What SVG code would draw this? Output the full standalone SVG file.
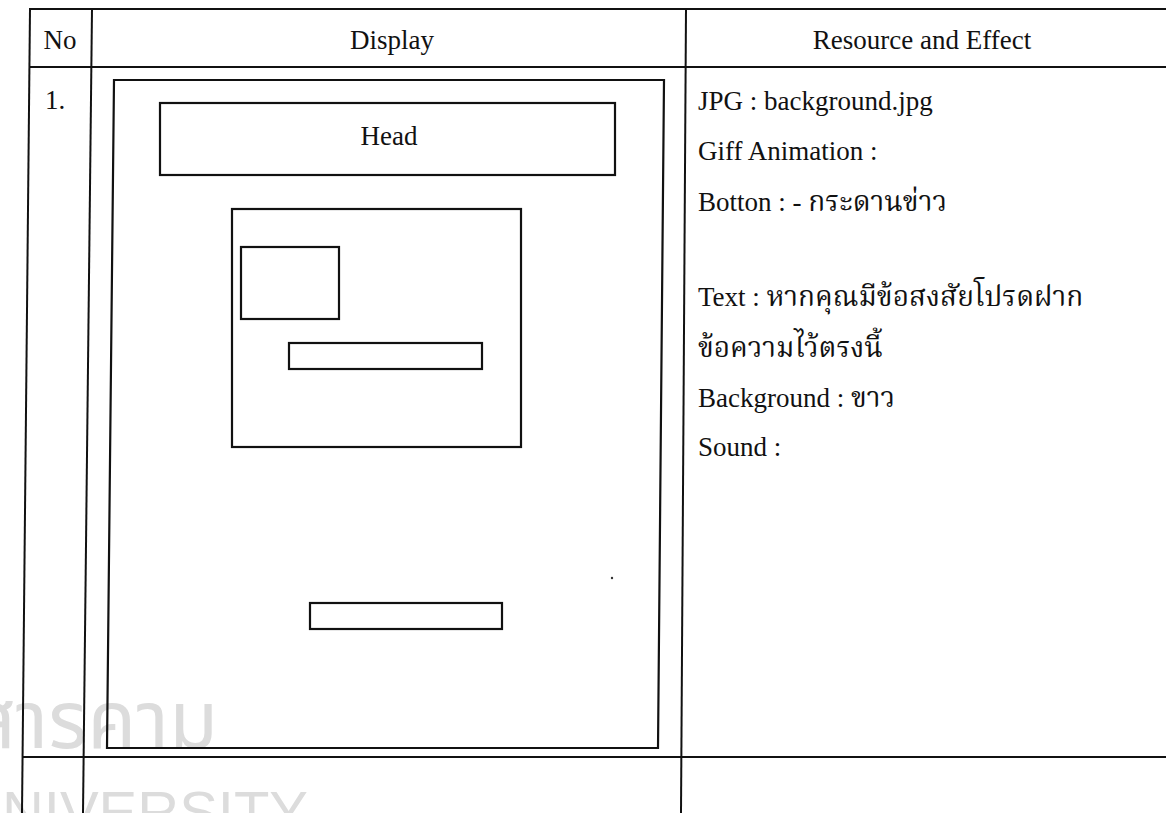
<svg xmlns="http://www.w3.org/2000/svg" width="1166" height="813" viewBox="0 0 1166 813">
<style>
.ln{stroke:#111;stroke-width:2;fill:none}
.bx{stroke:#111;stroke-width:2.2;fill:none}
.t{font-family:"Liberation Serif","Noto Serif Thai","Noto Sans Thai",serif;font-size:27px;fill:#111}
.th{font-size:28px}
.hd{font-family:"Liberation Serif",serif;font-size:27px;fill:#111}
.wm{font-family:"Liberation Sans","Noto Sans Thai",sans-serif;fill:#dcdcdc}
</style>
<rect width="1166" height="813" fill="#fff"/>
<g id="watermark">
<text class="wm" x="-30" y="748" font-size="80">สารคาม</text>
<text class="wm" x="-40" y="832" font-size="58">UNIVERSITY</text>
</g>
<g id="table">
<line class="ln" x1="29" y1="9" x2="1166" y2="9"/>
<line class="ln" x1="29" y1="67" x2="1166" y2="67"/>
<line class="ln" x1="22" y1="757" x2="1166" y2="757"/>
<line class="ln" x1="30" y1="9" x2="22" y2="813"/>
<line class="ln" x1="92" y1="9" x2="83" y2="813"/>
<line class="ln" x1="686" y1="9" x2="681" y2="813"/>
</g>
<g id="header">
<text class="hd" x="60" y="49" text-anchor="middle">No</text>
<text class="hd" x="392" y="49" text-anchor="middle">Display</text>
<text class="hd" x="922" y="49" text-anchor="middle">Resource and Effect</text>
</g>
<g id="row-number">
<text class="hd" x="45" y="109">1.</text>
</g>
<g id="display-frame">
<polygon class="bx" points="114,80 664,80 658,748 107,748"/>
</g>
<g id="head-box">
<rect class="bx" x="160" y="103" width="455" height="72"/>
<text class="hd" x="389" y="145" text-anchor="middle" font-size="30">Head</text>
</g>
<g id="content-box">
<rect class="bx" x="232" y="209" width="289" height="238"/>
</g>
<g id="image-box">
<rect class="bx" x="241" y="247" width="98" height="72"/>
</g>
<g id="text-bar">
<rect class="bx" x="289" y="343" width="193" height="26"/>
</g>
<g id="bottom-bar">
<rect class="bx" x="310" y="603" width="192" height="26"/>
</g>
<circle cx="612" cy="578" r="1.2" fill="#333"/>
<g id="resources">
<text class="t" x="698" y="110">JPG : background.jpg</text>
<text class="t" x="698" y="160">Giff Animation :</text>
<text class="t" x="698" y="211">Botton : -  <tspan class="th">กระดานข่าว</tspan></text>
<text class="t" x="698" y="306">Text : <tspan class="th">หากคุณมีข้อสงสัยโปรดฝาก</tspan></text>
<text class="t th" x="698" y="357">ข้อความไว้ตรงนี้</text>
<text class="t" x="698" y="407">Background : <tspan class="th">ขาว</tspan></text>
<text class="t" x="698" y="456">Sound :</text>
</g>
</svg>
